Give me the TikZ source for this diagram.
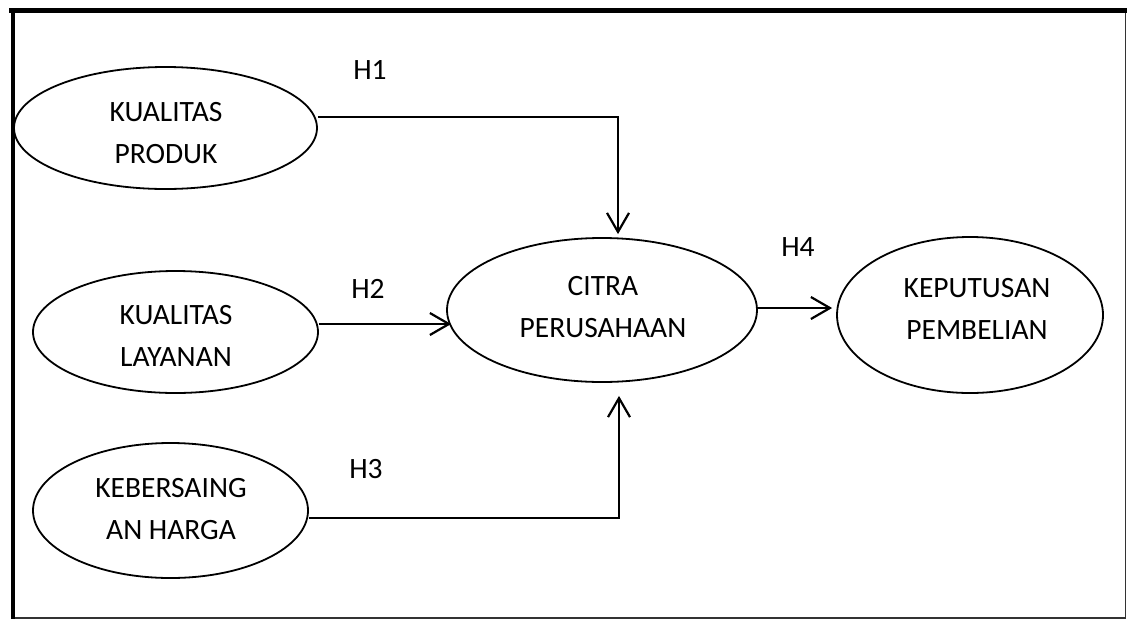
\documentclass[tikz,border=0pt]{standalone}
\usepackage{fontspec}
\setmainfont{Carlito}
\usepackage{tikz}
\usetikzlibrary{shapes.geometric, arrows.meta}

\begin{document}
\begin{tikzpicture}[
    x=1pt, y=-1pt,
    every node/.style={font=\fontsize{29.5}{42}\selectfont},
    construct/.style={ellipse, draw=black, line width=1.8pt, inner sep=0pt, minimum width=#1},
    caption/.style={align=center, inner sep=0pt},
    hypo/.style={anchor=base, inner sep=0pt},
    arrow/.style={-{Straight Barb[length=19pt, width=22pt, line width=2.2pt]}, line width=2.4pt, black}
]
\useasboundingbox (0,0) rectangle (1127,619);

% frame
\draw[line width=1.5pt, black!80] (13,10.5) rectangle (1125.5,617.8);
\draw[line width=5pt] (9,10.5) -- (1127,10.5);
\draw[line width=4.5pt] (13,8) -- (13,619);

% constructs
\node[construct=303pt, minimum height=122pt] (kp) at (165.5,128) {};
\node[construct=285pt, minimum height=122pt] (kl) at (175.5,332) {};
\node[construct=275pt, minimum height=135pt] (kh) at (170.5,510.5) {};
\node[construct=310pt, minimum height=144pt] (cp) at (602,310) {};
\node[construct=266pt, minimum height=156pt] (kb) at (970,315) {};

\node[caption] (kptext) at (166,132.7) {KUALITAS\\PRODUK};
\node[caption] (kltext) at (176,335.9) {KUALITAS\\LAYANAN};
\node[caption] (khtext) at (171,509.2) {KEBERSAING\\AN HARGA};
\node[caption] (cptext) at (603,306.7) {CITRA\\PERUSAHAAN};
\node[caption] (kbtext) at (977,308.7) {KEPUTUSAN\\PEMBELIAN};

% hypotheses
\node[hypo] (h1) at (370,79) {H1};
\node[hypo] (h2) at (368,298) {H2};
\node[hypo] (h3) at (366,478) {H3};
\node[hypo] (h4) at (798,256) {H4};

% KUALITAS PRODUK -> CITRA PERUSAHAAN
\draw[arrow] ([yshift=11pt]kp.east) -| ([xshift=16pt, yshift=3pt]cp.north);

% KUALITAS LAYANAN -> CITRA PERUSAHAAN
\draw[arrow] ([yshift=8pt]kl.east) -- ([xshift=5pt, yshift=8pt]cp.west |- kl.east);

% KEBERSAING AN HARGA -> CITRA PERUSAHAAN
\draw[arrow, shorten >=13pt] ([yshift=-7.5pt]kh.east) -| ([xshift=17pt]cp.south);

% CITRA PERUSAHAAN -> KEPUTUSAN PEMBELIAN
\draw[arrow, shorten >=4pt] ([yshift=2pt]cp.east) -- ([yshift=2pt]cp.east -| kb.west);

\end{tikzpicture}
\end{document}
